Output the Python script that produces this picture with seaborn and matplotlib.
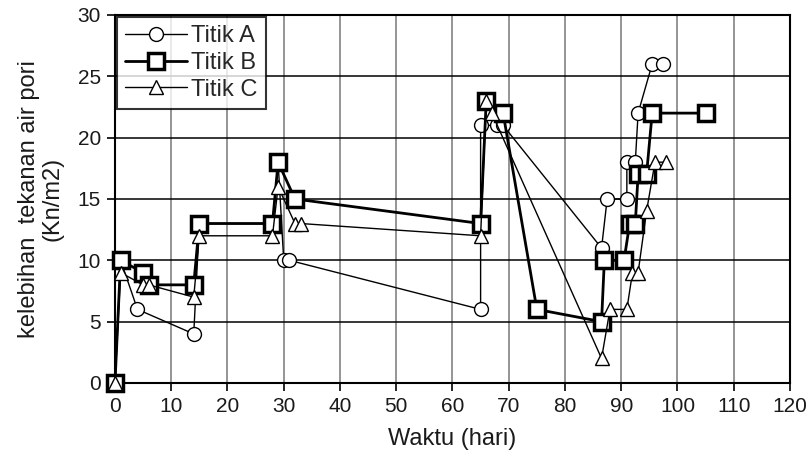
import numpy as np
import pandas as pd
import matplotlib
matplotlib.use("Agg")
import matplotlib.pyplot as plt
import seaborn as sns

# data (days, excess pore pressure)
titik_a_x = [0, 1, 4, 14, 15, 28, 29, 30, 31, 65, 65, 68, 69, 86.5, 87.5, 91, 91, 92.5, 93, 95.5, 97.5]
titik_a_y = [0, 10, 6, 4, 13, 13, 18, 10, 10, 6, 21, 21, 21, 11, 15, 15, 18, 18, 22, 26, 26]
titik_b_x = [0, 1, 5, 6, 14, 15, 28, 29, 32, 65, 66, 69, 75, 86.5, 87, 90.5, 91.5, 92.5, 93, 94.5, 95.5, 105]
titik_b_y = [0, 10, 9, 8, 8, 13, 13, 18, 15, 13, 23, 22, 6, 5, 10, 10, 13, 13, 17, 17, 22, 22]
titik_c_x = [0, 1, 5, 6, 14, 15, 28, 29, 32, 33, 65, 66, 67, 86.5, 88, 91, 92, 93, 94.5, 96, 98]
titik_c_y = [0, 9, 8, 8, 7, 12, 12, 16, 13, 13, 12, 23, 22, 2, 6, 6, 9, 9, 14, 18, 18]

sns.set_style("white")
plt.rcParams["font.family"] = ["Liberation Sans", "DejaVu Sans"]
fs = 17
tick_fs = 15

fig = plt.figure(figsize=(8.08, 4.67), dpi=100)
ax = fig.add_axes([0.1423, 0.1799, 0.8354, 0.788])

for i in range(10, 120, 10):
    ax.axvline(i, color="#8c8c8c", lw=1.3, zorder=0)
for j in range(5, 30, 5):
    ax.axhline(j, color="black", lw=1.1, zorder=0)

sns.lineplot(x=titik_a_x, y=titik_a_y, sort=False, estimator=None, ax=ax, color="black",
             lw=1, marker="o", markersize=10, markerfacecolor="white", markeredgecolor="black",
             markeredgewidth=1, label="Titik A", clip_on=False, zorder=3)
sns.lineplot(x=titik_b_x, y=titik_b_y, sort=False, estimator=None, ax=ax, color="black",
             lw=2, marker="s", markersize=11, markerfacecolor="white", markeredgecolor="black",
             markeredgewidth=2.5, label="Titik B", clip_on=False, zorder=4)
sns.lineplot(x=titik_c_x, y=titik_c_y, sort=False, estimator=None, ax=ax, color="black",
             lw=1, marker="^", markersize=10, markerfacecolor="white", markeredgecolor="black",
             markeredgewidth=1, label="Titik C", clip_on=False, zorder=5)

ax.set_xlim(0, 120)
ax.set_ylim(0, 30)
ax.set_xticks(range(0, 121, 10))
ax.set_yticks(range(0, 31, 5))
ax.tick_params(axis="both", direction="out", length=6, width=1.2, color="black",
               labelsize=tick_fs, labelcolor="#1a1a1a", bottom=True, left=True, pad=4)
for s in ax.spines.values():
    s.set_color("black")
    s.set_linewidth(1.5)

ax.set_xlabel("Waktu (hari)", fontsize=fs, color="#1a1a1a", labelpad=9)
ax.set_ylabel("kelebihan  tekanan air pori\n(Kn/m2)", fontsize=fs, color="#1a1a1a",
              labelpad=10, linespacing=1.1)

leg = ax.legend(loc="upper left", bbox_to_anchor=(0.003, 0.995), fontsize=fs, frameon=True,
                fancybox=False, edgecolor="black", borderpad=0.35, handlelength=2.6,
                labelspacing=0.2, handletextpad=0.2, borderaxespad=0)
leg.get_frame().set_linewidth(1.5)

fig.savefig("out.png", dpi=100)
